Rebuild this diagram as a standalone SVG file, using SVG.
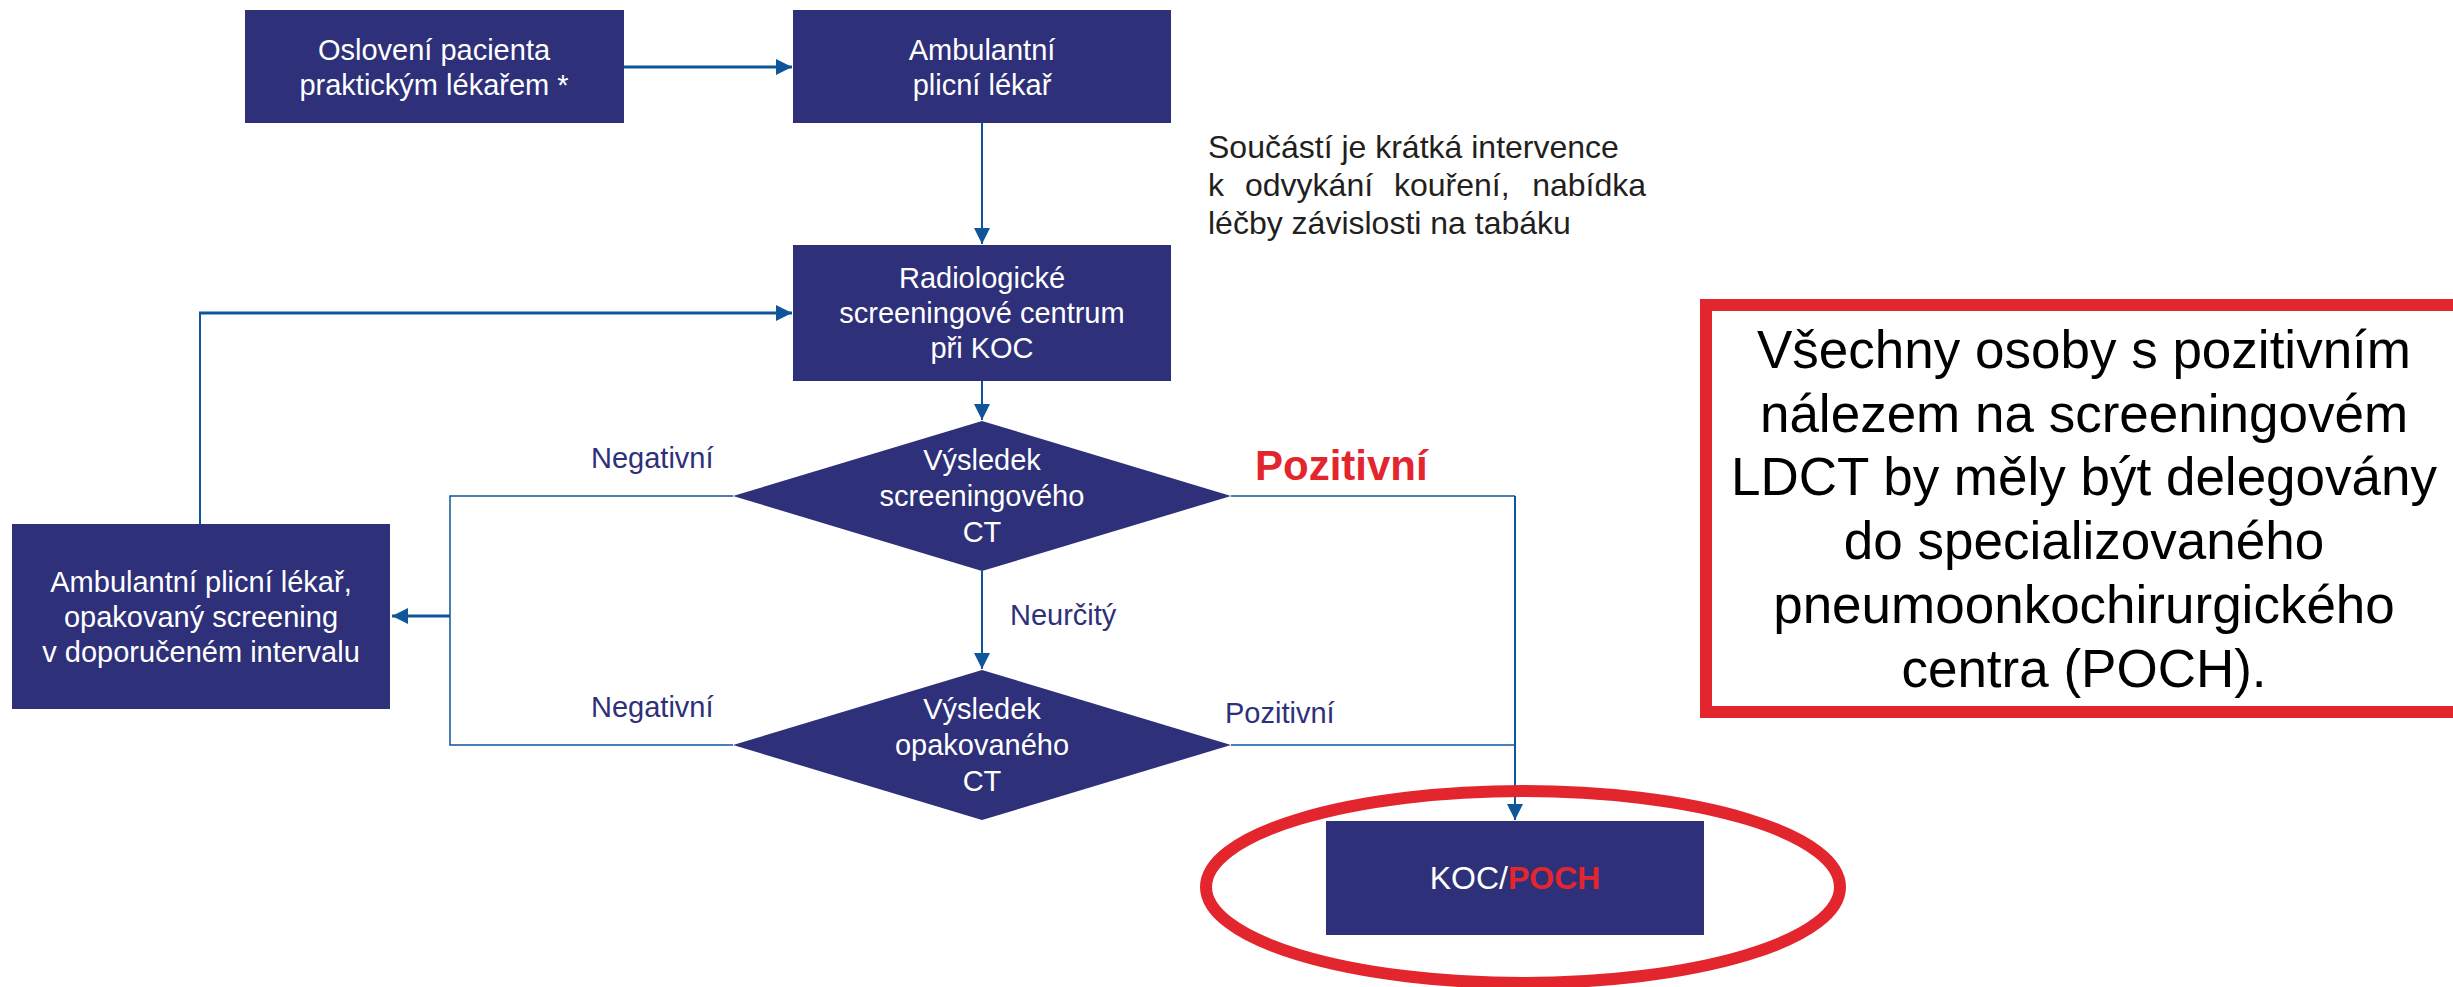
<svg xmlns="http://www.w3.org/2000/svg" width="2453" height="987" viewBox="0 0 2453 987">
<defs>
<style>
.box{fill:#2E3079;}
.bt{font-family:"Liberation Sans",Arial,sans-serif;font-size:29px;fill:#FFFFFF;text-anchor:middle;}
.lbl{font-family:"Liberation Sans",Arial,sans-serif;font-size:29px;fill:#2E3079;}
.ln{fill:none;stroke:#0E5699;}
.note{font-family:"Liberation Sans",Arial,sans-serif;font-size:32px;fill:#231F20;}
.big{font-family:"Liberation Sans",Arial,sans-serif;font-size:53px;fill:#000000;text-anchor:middle;}
.red{fill:#E3262D;}
</style>
<marker id="ah" markerUnits="userSpaceOnUse" markerWidth="17" markerHeight="16" refX="16" refY="8" orient="auto">
<path d="M0,0 L16,8 L0,16 Z" fill="#0E5699"/>
</marker>
</defs>
<rect width="2453" height="987" fill="#FFFFFF"/>

<g id="connectors">
<path class="ln" stroke-width="3" d="M624,67 H792" marker-end="url(#ah)"/>
<path class="ln" stroke-width="2" d="M982,123 V244" marker-end="url(#ah)"/>
<path class="ln" stroke-width="2" d="M982,381 V420" marker-end="url(#ah)"/>
<path class="ln" stroke-width="2" d="M982,571 V669" marker-end="url(#ah)"/>
<path class="ln" stroke-width="1.5" d="M733,496 H450 V745 H733"/>
<path class="ln" stroke-width="3" d="M450,616 H392" marker-end="url(#ah)"/>
<path class="ln" stroke-width="2" d="M200,524 V313"/>
<path class="ln" stroke-width="3" d="M199,313 H792" marker-end="url(#ah)"/>
<path class="ln" stroke-width="1.5" d="M1231,496 H1515"/>
<path class="ln" stroke-width="1.5" d="M1231,745 H1515"/>
<path class="ln" stroke-width="2" d="M1515,496 V820" marker-end="url(#ah)"/>
</g>

<g id="n-osloveni">
<rect class="box" x="245" y="10" width="379" height="113"/>
<text class="bt" x="434" y="60">Oslovení pacienta</text>
<text class="bt" x="434" y="95">praktickým lékařem *</text>
</g>

<g id="n-ambulantni">
<rect class="box" x="793" y="10" width="378" height="113"/>
<text class="bt" x="982" y="60">Ambulantní</text>
<text class="bt" x="982" y="95">plicní lékař</text>
</g>

<g id="n-note">
<text class="note" x="1208" y="158">Součástí je krátká intervence</text>
<text class="note" y="196"><tspan x="1208">k</tspan><tspan x="1245">odvykání</tspan><tspan x="1394">kouření,</tspan><tspan x="1646" text-anchor="end">nabídka</tspan></text>
<text class="note" x="1208" y="234">léčby závislosti na tabáku</text>
</g>

<g id="n-radiologicke">
<rect class="box" x="793" y="245" width="378" height="136"/>
<text class="bt" x="982" y="288">Radiologické</text>
<text class="bt" x="982" y="323">screeningové centrum</text>
<text class="bt" x="982" y="358">při KOC</text>
</g>

<g id="n-vysledek1">
<polygon class="box" points="982,421 1231,496 982,571 733,496"/>
<text class="bt" x="982" y="470">Výsledek</text>
<text class="bt" x="982" y="506">screeningového</text>
<text class="bt" x="982" y="542">CT</text>
</g>

<g id="n-vysledek2">
<polygon class="box" points="982,670 1231,745 982,820 733,745"/>
<text class="bt" x="982" y="719">Výsledek</text>
<text class="bt" x="982" y="755">opakovaného</text>
<text class="bt" x="982" y="791">CT</text>
</g>

<g id="n-ambulantni2">
<rect class="box" x="12" y="524" width="378" height="185"/>
<text class="bt" x="201" y="592">Ambulantní plicní lékař,</text>
<text class="bt" x="201" y="627">opakovaný screening</text>
<text class="bt" x="201" y="662">v doporučeném intervalu</text>
</g>

<g id="n-koc">
<rect class="box" x="1326" y="821" width="378" height="114"/>
<text x="1515" y="889" text-anchor="middle" font-family="'Liberation Sans',Arial,sans-serif" font-size="32" fill="#FFFFFF">KOC/<tspan font-weight="bold" class="red">POCH</tspan></text>
</g>

<g id="labels">
<text class="lbl" x="591" y="468">Negativní</text>
<text class="lbl" x="591" y="717">Negativní</text>
<text class="lbl" x="1010" y="625">Neurčitý</text>
<text class="lbl" x="1225" y="723">Pozitivní</text>
<text x="1255" y="480" font-family="'Liberation Sans',Arial,sans-serif" font-size="42" font-weight="bold" fill="#E3262D">Pozitivní</text>
</g>

<g id="highlight-ellipse">
<ellipse cx="1523" cy="887" rx="317" ry="96" fill="none" stroke="#E3262D" stroke-width="12"/>
</g>

<g id="n-info">
<rect x="1706" y="305" width="756" height="407" fill="#FFFFFF" stroke="#E3262D" stroke-width="12"/>
<text class="big" x="2084" y="368">Všechny osoby s pozitivním</text>
<text class="big" x="2084" y="432">nálezem na screeningovém</text>
<text class="big" x="2084" y="495">LDCT by měly být delegovány</text>
<text class="big" x="2084" y="559">do specializovaného</text>
<text class="big" x="2084" y="623">pneumoonkochirurgického</text>
<text class="big" x="2084" y="687">centra (POCH).</text>
</g>
</svg>
